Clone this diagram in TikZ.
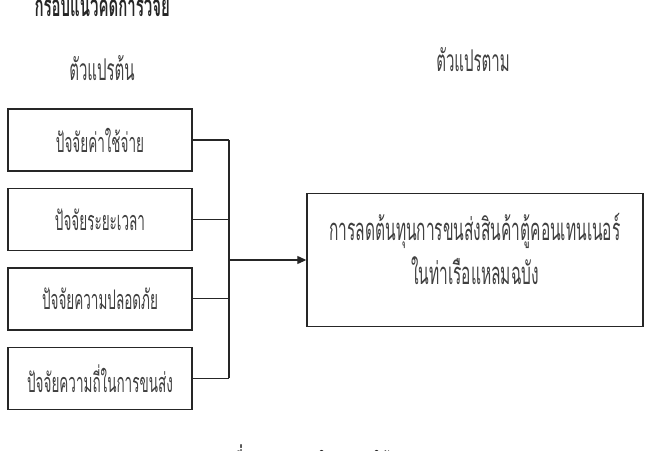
\documentclass[tikz,border=0pt]{standalone}
\usepackage{fontspec}
\newfontfamily\thaifont[Script=Thai,FakeStretch=0.5]{Loma}
\usetikzlibrary{arrows.meta,positioning,calc}

\tikzset{
  factor/.style={draw=black!85,line width=1.4pt,minimum width=184pt,minimum height=62pt,inner sep=0pt,font=\thaifont\fontsize{27}{30}\selectfont,text=black!75},
  result/.style={draw=black!85,line width=1.4pt,minimum width=336pt,minimum height=133pt,inner sep=0pt},
  head/.style={font=\thaifont\fontsize{30}{33}\selectfont,text=black!75},
  link/.style={draw=black!85,line width=1.2pt}
}

\begin{document}
\begin{tikzpicture}[x=1pt,y=-1pt]
	\useasboundingbox (0,0) rectangle (650,450);
	\clip (0,0) rectangle (650,450);

	\node[anchor=base west,font=\thaifont\bfseries\fontsize{30}{33}\selectfont,text=black!85] (title) at (31,16) {กรอบแนวคิดการวิจัย};
	\node[head] (indep) at (102,68) {ตัวแปรต้น};
	\node[head] (dep-head) at (473,60) {ตัวแปรตาม};

	% independent variables
	\node[factor] (f1) at (100,140) {ปัจจัยค่าใช้จ่าย};
	\node[factor,below=16pt of f1] (f2) {ปัจจัยระยะเวลา};
	\node[factor,below=16pt of f2] (f3) {ปัจจัยความปลอดภัย};
	\node[factor,below=16pt of f3] (f4) {ปัจจัยความถี่ในการขนส่ง};

	% dependent variable
	\node[result] (dep) at (475,260) {};
	\node[align=center,font=\thaifont\fontsize{31}{34}\selectfont,text=black!75] (dep-text) at ($(dep.center)+(0,-11)$)
		{การลดต้นทุนการขนส่งสินค้าตู้คอนเทนเนอร์\\[8pt]ในท่าเรือแหลมฉบัง};

	\coordinate (bus) at (229,260);
	\foreach \f in {f1,f2,f3,f4} \draw[link] (\f.east) -- (\f.east -| bus);
	\draw[link] (f1.east -| bus) -- (f4.east -| bus);
	\draw[link,-{Triangle[length=9pt,width=8pt]}] (bus) -- (dep.west);

	\node[anchor=base west,font=\thaifont\bfseries\fontsize{27}{30}\selectfont,text=black!85] (caption) at (205,472) {ภาพที่ 1 กรอบแนวคิดในการวิจัย};
\end{tikzpicture}
\end{document}
